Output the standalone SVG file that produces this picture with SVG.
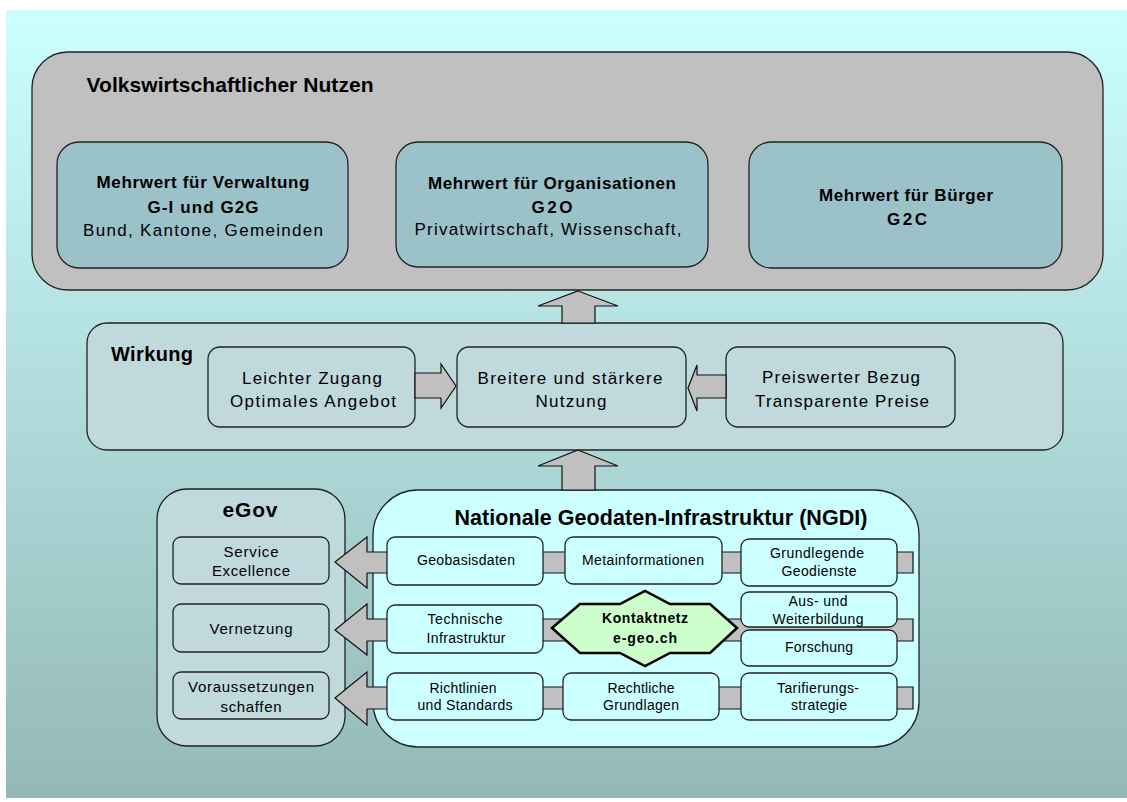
<svg xmlns="http://www.w3.org/2000/svg" width="1127" height="802" viewBox="0 0 1127 802">
<defs>
<linearGradient id="bg" x1="0" y1="0" x2="0" y2="1">
<stop offset="0" stop-color="#CCFFFF"/>
<stop offset="1" stop-color="#93B8B7"/>
</linearGradient>
</defs>
<style>
text{font-family:'Liberation Sans',Arial,sans-serif;fill:#000;text-anchor:middle}
.b{font-weight:bold}
.big{stroke:#222;stroke-width:1.3}
.gray{fill:#C0C0C0}
.val{fill:#9BC1C9;stroke:#222;stroke-width:1.3}
.wk{fill:#C0D9DC;stroke:#222;stroke-width:1.3}
.ng{fill:#CCFFFF;stroke:#222;stroke-width:1.3}
.arr{fill:#C0C0C0;stroke:#111;stroke-width:1.2;stroke-linejoin:miter}
.t17{font-size:17px}
.t15{font-size:15px}
.t14{font-size:14px}
</style>
<rect x="6" y="10" width="1121" height="788" fill="url(#bg)"/>

<g id="volkswirtschaft">
<rect class="big gray" x="32" y="52" width="1071" height="238" rx="36" ry="36"/>
<text class="b" x="230" y="92" font-size="21" textLength="287" text-anchor="middle">Volkswirtschaftlicher Nutzen</text>
</g>
<g id="verwaltung">
<rect class="val" x="57" y="142" width="291" height="126" rx="22" ry="22"/>
<text class="b t17" x="203" y="188" textLength="213">Mehrwert für Verwaltung</text>
<text class="b t17" x="203" y="213" textLength="111">G-I und G2G</text>
<text class="t17" x="203" y="236" textLength="240">Bund, Kantone, Gemeinden</text>
</g>
<g id="organisationen">
<rect class="val" x="396" y="142" width="312" height="125" rx="22" ry="22"/>
<text class="b t17" x="552" y="189" textLength="248">Mehrwert für Organisationen</text>
<text class="b t17" x="552" y="213" textLength="41">G2O</text>
<text class="t17" x="548" y="235" textLength="267">Privatwirtschaft, Wissenschaft,</text>
</g>
<g id="buerger">
<rect class="val" x="749" y="142" width="313" height="126" rx="22" ry="22"/>
<text class="b t17" x="906" y="201" textLength="174">Mehrwert für Bürger</text>
<text class="b t17" x="907" y="225" textLength="40">G2C</text>
</g>

<g id="wirkung">
<rect class="wk" x="87" y="323" width="976" height="127" rx="20" ry="20"/>
<text class="b" x="152" y="361" font-size="20" textLength="82">Wirkung</text>
</g>
<g id="zugang">
<rect class="wk" x="208" y="347" width="207" height="80" rx="12" ry="12"/>
<text class="t17" x="312" y="384" textLength="140">Leichter Zugang</text>
<text class="t17" x="313" y="407" textLength="166">Optimales Angebot</text>
</g>
<g id="nutzung">
<rect class="wk" x="457" y="347" width="229" height="80" rx="12" ry="12"/>
<text class="t17" x="570" y="384" textLength="185">Breitere und stärkere</text>
<text class="t17" x="571" y="407" textLength="71">Nutzung</text>
</g>
<g id="preis">
<rect class="wk" x="726" y="347" width="229" height="80" rx="12" ry="12"/>
<text class="t17" x="841" y="383" textLength="158">Preiswerter Bezug</text>
<text class="t17" x="842" y="407" textLength="174">Transparente Preise</text>
</g>

<g id="egov">
<rect class="wk" x="157" y="489" width="188" height="257" rx="30" ry="30"/>
<text class="b" x="250" y="517" font-size="21" textLength="55">eGov</text>
</g>
<g id="ngdi">
<rect class="ng" x="373" y="490" width="546" height="257" rx="45" ry="45"/>
<text class="b" x="661" y="525" font-size="21.5" textLength="413">Nationale Geodaten-Infrastruktur (NGDI)</text>
</g>

<g id="connectors">
<polygon class="arr" points="578,291 618,306 595,306 595,323 562,323 562,306 538,306"/>
<polygon class="arr" points="578,450 618,466 595,466 595,490 562,490 562,466 538,466"/>
<polygon class="arr" points="456,386 441,364 441,373 415,373 415,398 441,398 441,408"/>
<polygon class="arr" points="688,388 697,365 697,375 726,375 726,398 697,398 697,411"/>
<polygon class="arr" points="335,562 367,537 367,552 913,552 913,573 367,573 367,588"/>
<polygon class="arr" points="335,630 367,604 367,619 913,619 913,641 367,641 367,655"/>
<polygon class="arr" points="335,698 367,672 367,687 913,687 913,709 367,709 367,725"/>
</g>

<g id="service">
<rect class="wk" x="173" y="537" width="156" height="47" rx="8" ry="8"/>
<text class="t15" x="251" y="557" textLength="55">Service</text>
<text class="t15" x="251" y="576" textLength="78">Excellence</text>
</g>
<g id="vernetzung">
<rect class="wk" x="173" y="604" width="156" height="48" rx="8" ry="8"/>
<text class="t15" x="251" y="634" textLength="83">Vernetzung</text>
</g>
<g id="voraussetzungen">
<rect class="wk" x="173" y="672" width="156" height="47" rx="8" ry="8"/>
<text class="t15" x="251" y="692" textLength="126">Voraussetzungen</text>
<text class="t15" x="251" y="712" textLength="61">schaffen</text>
</g>

<g id="geobasisdaten">
<rect class="ng" x="387" y="537" width="156" height="48" rx="8" ry="8"/>
<text class="t14" x="466" y="565" textLength="98">Geobasisdaten</text>
</g>
<g id="metainformationen">
<rect class="ng" x="565" y="537" width="157" height="47" rx="8" ry="8"/>
<text class="t14" x="643" y="565" textLength="122">Metainformationen</text>
</g>
<g id="geodienste">
<rect class="ng" x="741" y="539" width="156" height="47" rx="8" ry="8"/>
<text class="t14" x="817" y="558" textLength="94">Grundlegende</text>
<text class="t14" x="819" y="576" textLength="75">Geodienste</text>
</g>
<g id="technische">
<rect class="ng" x="387" y="605" width="156" height="48" rx="8" ry="8"/>
<text class="t14" x="465" y="624" textLength="75">Technische</text>
<text class="t14" x="466" y="643" textLength="79">Infrastruktur</text>
</g>
<g id="weiterbildung">
<rect class="ng" x="741" y="592" width="156" height="35" rx="8" ry="8"/>
<text class="t14" x="818" y="606" textLength="59">Aus- und</text>
<text class="t14" x="818" y="624" textLength="91">Weiterbildung</text>
</g>
<g id="forschung">
<rect class="ng" x="741" y="630" width="156" height="36" rx="8" ry="8"/>
<text class="t14" x="819" y="652" textLength="68">Forschung</text>
</g>
<g id="richtlinien">
<rect class="ng" x="387" y="673" width="156" height="47" rx="8" ry="8"/>
<text class="t14" x="463" y="693" textLength="67">Richtlinien</text>
<text class="t14" x="465" y="710" textLength="95">und Standards</text>
</g>
<g id="rechtliche">
<rect class="ng" x="563" y="673" width="156" height="47" rx="8" ry="8"/>
<text class="t14" x="641" y="693" textLength="67">Rechtliche</text>
<text class="t14" x="641" y="710" textLength="76">Grundlagen</text>
</g>
<g id="tarifierung">
<rect class="ng" x="741" y="673" width="156" height="47" rx="8" ry="8"/>
<text class="t14" x="818" y="693" textLength="82">Tarifierungs-</text>
<text class="t14" x="819" y="710" textLength="56">strategie</text>
</g>

<g id="kontaktnetz">
<polygon points="552,628 580,604 620,604 645,591 670,604 710,604 737,628 710,653 670,653 645,666 620,653 580,653" fill="#CCFFCC" stroke="#000" stroke-width="2.5" stroke-linejoin="miter"/>
<text class="b t14" x="645" y="623" textLength="86">Kontaktnetz</text>
<text class="b t14" x="645" y="643" textLength="64">e-geo.ch</text>
</g>
</svg>
